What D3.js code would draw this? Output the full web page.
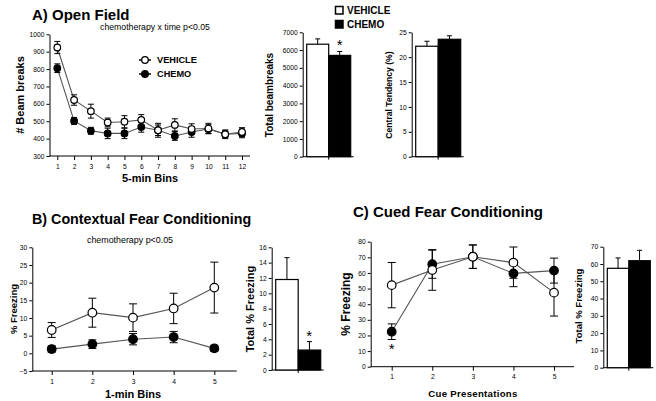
<!DOCTYPE html>
<html><head><meta charset="utf-8">
<script src="https://cdn.jsdelivr.net/npm/d3@7"></script>
<style>
body{margin:0;background:#fff;}
svg{display:block;font-family:"Liberation Sans",Arial,sans-serif;}
.tick text{font-size:6.7px;fill:#000;}
.domain,.tick line{stroke:#000;stroke-width:1;}
</style></head><body>
<svg id="c" width="656" height="401"></svg>
<script>
// ---------- DATA ----------
const groups = ["VEHICLE", "CHEMO"];
// A) Open Field, 5-min bins
const binsA = [1,2,3,4,5,6,7,8,9,10,11,12];
const vehicleA = [924, 622, 558, 493, 497, 508, 448, 479, 455, 458, 425, 438];
const vehicleA_se = [35, 30, 40, 25, 35, 30, 40, 35, 30, 30, 25, 25];
const chemoA = [805, 502, 445, 430, 430, 467, 448, 415, 438, 455, 425, 430];
const chemoA_se = [25, 20, 20, 30, 30, 30, 30, 25, 30, 25, 20, 25];
const ticksA = [300,400,500,600,700,800,900,1000];
const totalBeam = [6330, 5700];
const totalBeam_se = [300, 220];
const ticksBeam = [0,1000,2000,3000,4000,5000,6000,7000];
const centralT = [22.2, 23.6];
const centralT_se = [1.0, 0.7];
const ticksCentral = [0,5,10,15,20,25];
// B) Contextual Fear Conditioning, 1-min bins
const binsB = [1,2,3,4,5];
const vehicleB = [6.6, 11.5, 10.1, 12.7, 18.6];
const vehicleB_se = [2.1, 4.1, 3.9, 4.3, 7.2];
const chemoB = [1.2, 2.6, 4.0, 4.6, 1.4];
const chemoB_se = [0.9, 1.2, 1.6, 1.6, 0.9];
const ticksB = [-5,0,5,10,15,20,25,30];
const totalB = [11.8, 2.6];
const totalB_se = [2.85, 1.1];
const ticksTotalB = [0,2,4,6,8,10,12,14,16];
// C) Cued Fear Conditioning, cue presentations
const cues = [1,2,3,4,5];
const vehicleC = [52.2, 61.9, 70.4, 66.6, 47.4];
const vehicleC_se = [14.5, 13, 7.5, 10, 15];
const chemoC = [22.4, 65.6, 70.4, 59.7, 61.5];
const chemoC_se = [5, 9, 7.5, 8.5, 8];
const ticksC = [0,10,20,30,40,50,60,70,80];
const totalC = [57.5, 61.9];
const totalC_se = [6, 6];
const ticksTotalC = [0,10,20,30,40,50,60,70];

// ---------- DRAW ----------
const svg = d3.select("#c");
const fmt = d3.format("d");

function text(x, y, s, size, opts={}) {
  const t = svg.append("text").attr("x", x).attr("y", y).text(s)
    .attr("font-size", size).attr("fill", "#000")
    .attr("font-weight", opts.bold ? "bold" : "normal")
    .attr("text-anchor", opts.anchor || "start");
  if (opts.rotate) t.attr("transform", `rotate(-90,${x},${y})`);
  if (opts.ls) t.attr("letter-spacing", opts.ls);
  return t;
}

function linePanel(cfg) {
  const x = d3.scaleLinear().domain([cfg.xs[0], cfg.xs[cfg.xs.length-1]]).range([cfg.x1, cfg.xn]);
  const y = d3.scaleLinear().domain(cfg.ydom).range([cfg.y0, cfg.yTop]);
  const g = svg.append("g");
  g.append("g").attr("transform", `translate(${cfg.ax},0)`)
    .call(d3.axisLeft(y).tickValues(cfg.yticks).tickFormat(fmt).tickSize(3).tickSizeOuter(0).tickPadding(2));
  const xa = g.append("g").attr("transform", `translate(0,${cfg.y0})`)
    .call(d3.axisBottom(x).tickValues(cfg.xs).tickFormat(fmt).tickSize(4).tickSizeOuter(0).tickPadding(4));
  xa.select(".domain").remove();
  g.append("line").attr("x1", cfg.ax).attr("x2", cfg.xEnd).attr("y1", cfg.y0).attr("y2", cfg.y0).attr("stroke", "#000");
  const line = d3.line().x((d,i)=>x(cfg.xs[i])).y(d=>y(d));
  const series = [
    {v: cfg.chemo, se: cfg.chemoSe, fill: "#000"},
    {v: cfg.veh, se: cfg.vehSe, fill: "#fff"}
  ];
  series.forEach(s => {
    g.append("path").datum(s.v).attr("d", line).attr("fill", "none").attr("stroke", "#555").attr("stroke-width", 1.1);
  });
  series.forEach(s => {
    s.v.forEach((v,i) => {
      const cx = x(cfg.xs[i]);
      const t = y(v + s.se[i]), b = y(v - s.se[i]);
      g.append("line").attr("x1", cx).attr("x2", cx).attr("y1", t).attr("y2", b).attr("stroke", "#000").attr("stroke-width", 1);
      [t, b].forEach(yy => g.append("line").attr("x1", cx-cfg.cap).attr("x2", cx+cfg.cap).attr("y1", yy).attr("y2", yy).attr("stroke", "#000").attr("stroke-width", 1));
    });
    s.v.forEach((v,i) => {
      g.append("circle").attr("cx", x(cfg.xs[i])).attr("cy", y(v)).attr("r", cfg.r)
        .attr("fill", s.fill).attr("stroke", "#000").attr("stroke-width", 1.2);
    });
  });
  return {x, y};
}

function barPanel(cfg) {
  const y = d3.scaleLinear().domain([cfg.yticks[0], cfg.yticks[cfg.yticks.length-1]]).range([cfg.y0, cfg.yTop]);
  const xb = d3.scaleBand().domain(groups).range([cfg.ax+4, cfg.ax+4+cfg.bw*2]).padding(0);
  const g = svg.append("g");
  g.append("g").attr("transform", `translate(${cfg.ax},0)`)
    .call(d3.axisLeft(y).tickValues(cfg.yticks).tickFormat(fmt).tickSize(3).tickSizeOuter(0).tickPadding(2));
  g.append("line").attr("x1", cfg.ax).attr("x2", cfg.ax+4+cfg.bw*2+3).attr("y1", cfg.y0).attr("y2", cfg.y0).attr("stroke", "#000");
  g.append("line").attr("x1", xb("CHEMO")).attr("x2", xb("CHEMO")).attr("y1", cfg.y0).attr("y2", cfg.y0+3).attr("stroke", "#000");
  groups.forEach((k,i) => {
    const v = cfg.vals[i], se = cfg.se[i];
    const cx = xb(k) + xb.bandwidth()/2;
    g.append("line").attr("x1", cx).attr("x2", cx).attr("y1", y(v)).attr("y2", y(v+se)).attr("stroke", "#000");
    g.append("line").attr("x1", cx-2.5).attr("x2", cx+2.5).attr("y1", y(v+se)).attr("y2", y(v+se)).attr("stroke", "#000");
    g.append("rect").attr("x", xb(k)).attr("y", y(v)).attr("width", xb.bandwidth()).attr("height", cfg.y0 - y(v))
      .attr("fill", i === 0 ? "#fff" : "#000").attr("stroke", "#000").attr("stroke-width", 1.2);
  });
  return {xb, y};
}

// ----- Panel A -----
text(32, 20, "A) Open Field", 15, {bold:true});
text(155, 30, "chemotherapy x time p<0.05", 8.7, {anchor:"middle"});
linePanel({xs: binsA, veh: vehicleA, vehSe: vehicleA_se, chemo: chemoA, chemoSe: chemoA_se,
  ydom: [300, 1000], yticks: ticksA, ax: 49.5, y0: 156, yTop: 34.3, x1: 57.3, xn: 242, xEnd: 250, r: 3.3, cap: 3});
text(24, 95, "# Beam breaks", 11, {bold:true, rotate:true, anchor:"middle"});
text(150, 182, "5-min Bins", 11, {bold:true, anchor:"middle"});
// legend A
[["VEHICLE", "#fff", 60], ["CHEMO", "#000", 74]].forEach(([lab, f, yy]) => {
  svg.append("line").attr("x1", 139).attr("x2", 151).attr("y1", yy).attr("y2", yy).attr("stroke", "#000").attr("stroke-width", 1.5);
  svg.append("circle").attr("cx", 145).attr("cy", yy).attr("r", 3.3).attr("fill", f).attr("stroke", "#000").attr("stroke-width", 1.3);
  text(157, yy + 3.3, lab, 9.2, {bold:true});
});

const bA1 = barPanel({vals: totalBeam, se: totalBeam_se, yticks: ticksBeam, ax: 302.7, y0: 156.7, yTop: 32.3, bw: 22});
text(273, 95, "Total beambreaks", 10, {bold:true, rotate:true, anchor:"middle"});
text(bA1.xb("CHEMO") + 11, bA1.y(totalBeam[1] + totalBeam_se[1]) - 1, "*", 15, {anchor:"middle"});
barPanel({vals: centralT, se: centralT_se, yticks: ticksCentral, ax: 411.7, y0: 156.7, yTop: 32.3, bw: 22.5});
text(392, 95, "Central Tendency (%)", 8.6, {bold:true, rotate:true, anchor:"middle"});
// top legend
[["VEHICLE", "#fff", 6.5], ["CHEMO", "#000", 20.5]].forEach(([lab, f, yy]) => {
  svg.append("rect").attr("x", 335.5).attr("y", yy).attr("width", 7.5).attr("height", 7.5).attr("fill", f).attr("stroke", "#000").attr("stroke-width", 1.5);
  text(347, yy + 7.3, lab, 10, {bold:true});
});

// ----- Panel B -----
text(32, 224, "B) Contextual Fear Conditioning", 14.3, {bold:true});
text(130, 243, "chemotherapy p<0.05", 8.9, {anchor:"middle"});
linePanel({xs: binsB, veh: vehicleB, vehSe: vehicleB_se, chemo: chemoB, chemoSe: chemoB_se,
  ydom: [-5, 30], yticks: ticksB, ax: 32.3, y0: 371, yTop: 247.3, x1: 51.7, xn: 214.3, xEnd: 236.7, r: 4.3, cap: 4});
text(17, 309, "% Freezing", 9.5, {bold:true, rotate:true, anchor:"middle"});
text(133, 398, "1-min Bins", 11, {bold:true, anchor:"middle"});
const bB = barPanel({vals: totalB, se: totalB_se, yticks: ticksTotalB, ax: 271.7, y0: 370, yTop: 247.3, bw: 22.5});
text(254, 309, "Total % Freezing", 11, {bold:true, rotate:true, anchor:"middle"});
text(bB.xb("CHEMO") + 11, bB.y(totalB[1] + totalB_se[1]) - 1, "*", 15, {anchor:"middle"});

// ----- Panel C -----
text(353, 217, "C) Cued Fear Conditioning", 15, {bold:true});
const lc = linePanel({xs: cues, veh: vehicleC, vehSe: vehicleC_se, chemo: chemoC, chemoSe: chemoC_se,
  ydom: [0, 80], yticks: ticksC, ax: 370.7, y0: 366.7, yTop: 241.7, x1: 391.7, xn: 554, xEnd: 574, r: 4.3, cap: 4});
text(350, 304, "% Freezing", 12, {bold:true, rotate:true, anchor:"middle"});
text(473, 397, "Cue Presentations", 9.6, {bold:true, anchor:"middle", ls: 0.3});
text(lc.x(1), lc.y(chemoC[0] - chemoC_se[0]) + 14, "*", 15, {anchor:"middle"});
barPanel({vals: totalC, se: totalC_se, yticks: ticksTotalC, ax: 603.3, y0: 367.7, yTop: 246.7, bw: 21.5});
text(582, 306, "Total % Freezing", 9.5, {bold:true, rotate:true, anchor:"middle"});
</script></body></html>
